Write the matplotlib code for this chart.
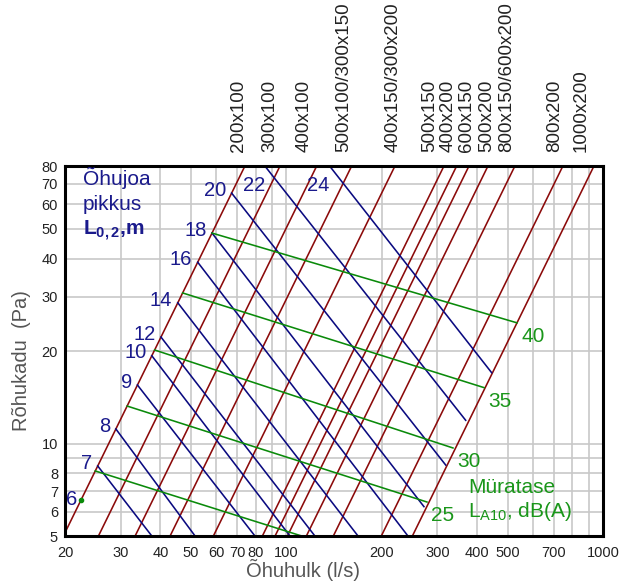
import numpy as np
import matplotlib
matplotlib.use('Agg')
import matplotlib.pyplot as plt
import matplotlib.ticker as ticker

plt.rcParams['font.family'] = ['Liberation Sans', 'DejaVu Sans']
plt.rcParams['mathtext.fontset'] = 'custom'
plt.rcParams['mathtext.rm'] = 'Liberation Sans'
plt.rcParams['mathtext.bf'] = 'Liberation Sans:bold'
plt.rcParams['mathtext.it'] = 'Liberation Sans:italic'

# Duct sizes: flow (l/s) where each line reaches 80 Pa, pressure ~ q^2.1
ductLabels = ['200x100', '300x100', '400x100', '500x100/300x150', '400x150/300x200',
              '500x150', '400x200', '600x150', '500x200', '800x150/600x200',
              '800x200', '1000x200']
ductQ80 = [74.0, 95.5, 124.7, 160.8, 220.3, 314.6, 345.0, 377.4, 433.2, 527.0, 747.0, 936.4]
ductExp = 2.1

# Duct length lines: start pressure on first duct line, end point (flow, pressure)
lenLabels = ['7', '8', '9', '10', '12', '14', '16', '18', '20', '22', '24']
lenStartP = [8.45, 11.15, 15.5, 19.3, 22.2, 28.7, 38.9, 48.4, 65.3, 89.9, 131.6]
lenEndQ = [37.6, 51.5, 79.6, 102.7, 123.1, 168.4, 242.1, 272.0, 318.6, 368.4, 445.0]
lenEndP = [5.0, 5.0, 5.0, 5.0, 5.0, 5.0, 5.0, 6.23, 8.51, 11.9, 17.0]
len6P = 6.55

# Noise level lines
noiseLevels = [20, 25, 30, 35, 40]
noiseStartP = [8.14, 13.24, 20.15, 30.9, 48.4]
noiseEndQ = [111.8, 278.0, 335.9, 421.0, 535.0]
noiseEndP = [5.0, 6.45, 9.67, 15.2, 24.7]

xGrid = [20, 30, 40, 50, 60, 70, 80, 90, 100, 200, 300, 400, 500, 600, 700, 800, 900, 1000]
xTickText = ['20', '30', '40', '50', '60', '70', '80', '', '100', '200', '300', '400', '500',
             '', '700', '', '', '1000']
yGrid = [5, 6, 7, 8, 9, 10, 20, 30, 40, 50, 60, 70, 80]
yTickText = ['5', '6', '7', '8', '', '10', '20', '30', '40', '50', '60', '70', '80']

# label nudges for the duct size texts (points)
ductNudge = [-4.8, -7.2, -8.9, -6.0, -1.2, -10.0, -6.0, -1.7, -0.9, -6.0, -5.8, -8.9]

redCol = '#8b0a0a'
blueCol = '#0a0a80'
greenCol = '#0a8a0a'
blueText = '#1a1a8c'
greenText = '#1a961a'


def ductQ(i, p):
    return ductQ80[i] * (np.asarray(p) / 80.0) ** (1.0 / ductExp)


fig = plt.figure(figsize=(6.33, 5.83), dpi=100)
ax = fig.add_axes([65 / 633, 1 - 536 / 583, 538 / 633, 370 / 583])
ax.set_xscale('log')
ax.set_yscale('log')
ax.set_xlim(20, 1000)
ax.set_ylim(5, 80)

ax.xaxis.set_major_locator(ticker.FixedLocator(xGrid))
ax.xaxis.set_minor_locator(ticker.NullLocator())
ax.set_xticklabels(xTickText)
ax.yaxis.set_major_locator(ticker.FixedLocator(yGrid))
ax.yaxis.set_minor_locator(ticker.NullLocator())
ax.set_yticklabels(yTickText)
ax.tick_params(axis='x', length=0, pad=7, labelsize=10.5, labelcolor='#222222')
ax.tick_params(axis='y', length=0, pad=5, labelsize=10.5, labelcolor='#222222')
ax.grid(True, color='#c8c8c8', lw=1.2)
ax.set_axisbelow(True)
for s in ax.spines.values():
    s.set_linewidth(2.2)
    s.set_color('black')

# duct size lines
pRange = np.array([3.0, 120.0])
for i, lab in enumerate(ductLabels):
    ax.plot(ductQ(i, pRange), pRange, color=redCol, lw=1.15)
    ax.annotate(lab, xy=(ductQ80[i], 80), xytext=(ductNudge[i], 10),
                textcoords='offset points', rotation=90, ha='center', va='bottom',
                fontsize=13.5, color='#222222', annotation_clip=False)

# duct length lines
for lab, p0, q1, p1 in zip(lenLabels, lenStartP, lenEndQ, lenEndP):
    q0 = ductQ(0, p0)
    ax.plot([q0, q1], [p0, p1], color=blueCol, lw=1.15)
    if p0 <= 80:
        ax.annotate(lab, xy=(q0, p0), xytext=(-4, 2), textcoords='offset points',
                    ha='right', va='center', fontsize=14.5, color=blueText)
    else:
        t = (np.log(80) - np.log(p0)) / (np.log(p1) - np.log(p0))
        qc = np.exp(np.log(q0) + t * (np.log(q1) - np.log(q0)))
        ax.annotate(lab, xy=(qc, 80), xytext=(0, -14), textcoords='offset points',
                    ha='right', va='center', fontsize=14.5, color=blueText)

q6 = ductQ(0, len6P)
ax.plot([q6], [len6P], 'o', color=greenCol, ms=3)
ax.annotate('6', xy=(q6, len6P), xytext=(-3, 0), textcoords='offset points',
            ha='right', va='center', fontsize=14.5, color=blueText)

# noise level lines
for lvl, p0, q1, p1 in zip(noiseLevels, noiseStartP, noiseEndQ, noiseEndP):
    q0 = ductQ(0, p0)
    ax.plot([q0, q1], [p0, p1], color=greenCol, lw=1.15)
    if lvl >= 25:
        ax.annotate(str(lvl), xy=(q1, p1), xytext=(3, -3), textcoords='offset points',
                    ha='left', va='top', fontsize=15, color=greenText)

ax.text(0.0335, 0.9486, 'Õhujoa', transform=ax.transAxes, fontsize=15, color=blueText,
        ha='left', va='baseline')
ax.text(0.0335, 0.881, 'pikkus', transform=ax.transAxes, fontsize=15, color=blueText,
        ha='left', va='baseline')
ax.text(0.0335, 0.8135, r'L$_{\mathbf{0,2}}$,m', transform=ax.transAxes, fontsize=15,
        fontweight='bold', color=blueText, ha='left', va='baseline')

ax.text(0.749, 0.117, 'Müratase', transform=ax.transAxes, fontsize=15, color=greenText,
        ha='left', va='baseline')
ax.text(0.749, 0.052, r'L$_{\mathrm{A10}}$, dB(A)', transform=ax.transAxes, fontsize=15,
        color=greenText, ha='left', va='baseline')

fig.text(303 / 633, 1 - 570 / 583, 'Õhuhulk (l/s)', ha='center', va='center',
         fontsize=14.5, color='#555555')
fig.text(22 / 633, 1 - 361 / 583, 'Rõhukadu  (Pa)', ha='center', va='center',
         rotation=90, fontsize=14.5, color='#555555')

fig.savefig('out.png', dpi=100)
